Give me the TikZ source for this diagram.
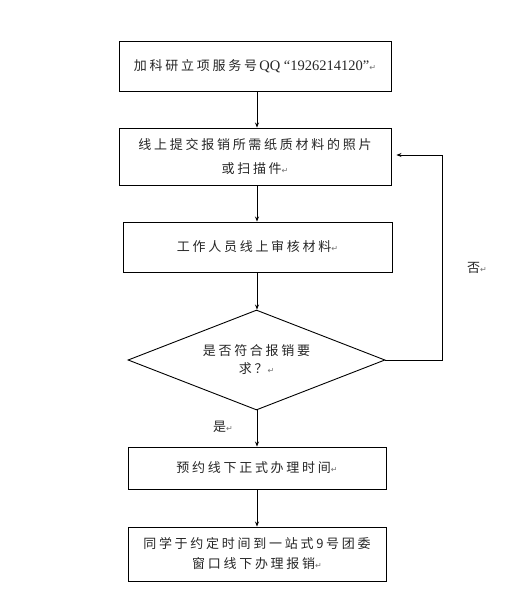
\documentclass[tikz,border=0pt]{standalone}
\usepackage{fontspec}
\setmainfont{Liberation Serif}
\newfontfamily\cjk[LetterSpace=21]{Noto Sans CJK SC}
\newfontfamily\symfont{DejaVu Sans}
\usetikzlibrary{arrows.meta,shapes.geometric}
\newcommand\retmark{{\symfont\fontsize{8}{8}\selectfont\color{black!55}↵}}
\tikzset{
  box/.style={draw, line width=0.9pt, rectangle, inner sep=0pt, align=center,
    text=black!85, font=\cjk\fontsize{13}{20}\selectfont},
  dec/.style={draw, line width=0.9pt, diamond, aspect=2.57, inner sep=0pt, align=center,
    minimum width=257pt, minimum height=100pt,
    text=black!85, font=\cjk\fontsize{13}{18}\selectfont},
  lab/.style={text=black!85, font=\cjk\fontsize{13}{18}\selectfont, inner sep=0pt},
  conn/.style={line width=0.9pt, -{Stealth[length=5pt,width=4pt]}},
}
\begin{document}
\begin{tikzpicture}[x=1pt,y=-1pt]
\useasboundingbox[fill=white] (0,0) rectangle (528,611);
\node[box, minimum width=272pt, minimum height=50pt] (b1) at (255,66)
  {加科研立项服务号{\rmfamily\fontsize{14.5}{20}\selectfont\,QQ “1926214120”}\retmark};
\node[box, minimum width=272pt, minimum height=57pt] (b2) at (255,156.5)
  {线上提交报销所需纸质材料的照片\\[4pt]或扫描件\retmark};
\node[box, minimum width=269pt, minimum height=50pt] (b3) at (257.5,247)
  {工作人员线上审核材料\retmark};
\node[dec] (d) at (256.5,360) {是否符合报销要\\求？\retmark};
\node[box, minimum width=258pt, minimum height=42pt] (b4) at (257,468)
  {预约线下正式办理时间\retmark};
\node[box, minimum width=258pt, minimum height=54pt] (b5) at (257,554)
  {同学于约定时间到一站式9号团委\\窗口线下办理报销\retmark};
\coordinate (c1) at (442,360);
\coordinate (c2) at (442,155);
\draw[conn] (b1.south -| 257,0) -- (b2.north -| 257,0);
\draw[conn] (b2.south -| 257,0) -- (b3.north -| 257,0);
\draw[conn] (b3.south -| 257,0) -- (d.north -| 257,0);
\draw[conn] (d.south -| 257,0) -- (b4.north -| 257,0);
\draw[conn] (b4.south -| 257,0) -- (b5.north -| 257,0);
\draw[conn, shorten >=5pt] (d.east) -- (c1) -- (c2) -- (b2.east |- c2);
\node[lab] (yes) at (223,427) {是\retmark};
\node[lab] (no) at (477,268) {否\retmark};
\end{tikzpicture}
\end{document}
